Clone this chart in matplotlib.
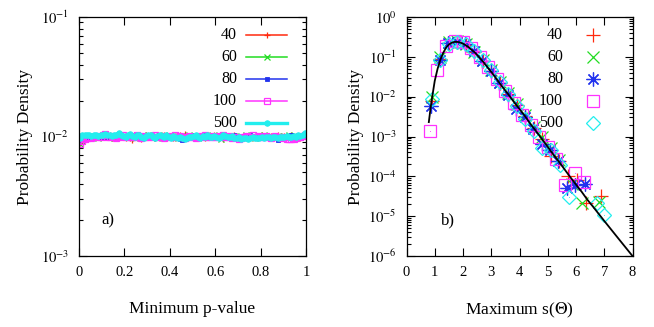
import matplotlib
matplotlib.use("Agg")
import matplotlib.pyplot as plt
import numpy as np
from matplotlib.ticker import FixedLocator, LogLocator, NullFormatter

plt.rcParams['font.family'] = ['Liberation Serif', 'DejaVu Serif']
plt.rcParams['mathtext.fontset'] = 'stix'

# ---------------- Panel a data ----------------
labels = ["40", "60", "80", "100", "500"]
pa_x = [i / 100 + 0.005 for i in range(100)]
pa_40 = [0.0088,0.0094,0.0097,0.0099,0.0098,0.0100,0.0101,0.0099,0.0100,0.0102,
         0.0101,0.0099,0.0100,0.0103,0.0098,0.0101,0.0100,0.0099,0.0102,0.0100,
         0.0098,0.0101,0.0097,0.0094,0.0100,0.0099,0.0101,0.0095,0.0100,0.0102,
         0.0099,0.0101,0.0100,0.0098,0.0102,0.0099,0.0100,0.0103,0.0099,0.0101,
         0.0100,0.0098,0.0101,0.0099,0.0102,0.0100,0.0104,0.0099,0.0101,0.0100,
         0.0098,0.0101,0.0099,0.0100,0.0102,0.0098,0.0101,0.0100,0.0099,0.0103,
         0.0100,0.0098,0.0101,0.0095,0.0100,0.0099,0.0101,0.0100,0.0102,0.0099,
         0.0100,0.0098,0.0101,0.0100,0.0099,0.0102,0.0100,0.0099,0.0101,0.0100,
         0.0102,0.0099,0.0100,0.0098,0.0101,0.0100,0.0099,0.0102,0.0100,0.0098,
         0.0101,0.0099,0.0100,0.0102,0.0099,0.0101,0.0100,0.0098,0.0101,0.0102]
pa_60 = [0.0087,0.0092,0.0096,0.0098,0.0100,0.0099,0.0101,0.0100,0.0098,0.0101,
         0.0100,0.0102,0.0099,0.0100,0.0101,0.0098,0.0100,0.0102,0.0099,0.0101,
         0.0100,0.0099,0.0101,0.0100,0.0098,0.0102,0.0100,0.0099,0.0101,0.0100,
         0.0102,0.0099,0.0100,0.0101,0.0098,0.0100,0.0099,0.0102,0.0100,0.0101,
         0.0099,0.0100,0.0102,0.0098,0.0100,0.0101,0.0099,0.0100,0.0102,0.0099,
         0.0101,0.0100,0.0098,0.0101,0.0100,0.0099,0.0102,0.0100,0.0101,0.0099,
         0.0100,0.0102,0.0095,0.0100,0.0101,0.0099,0.0100,0.0098,0.0101,0.0100,
         0.0099,0.0101,0.0100,0.0102,0.0099,0.0100,0.0101,0.0098,0.0100,0.0101,
         0.0099,0.0102,0.0100,0.0099,0.0101,0.0100,0.0098,0.0101,0.0100,0.0099,
         0.0101,0.0100,0.0102,0.0099,0.0100,0.0101,0.0099,0.0100,0.0101,0.0103]
pa_80 = [0.0093,0.0095,0.0097,0.0096,0.0099,0.0100,0.0098,0.0101,0.0100,0.0099,
         0.0101,0.0100,0.0102,0.0099,0.0100,0.0101,0.0099,0.0102,0.0100,0.0098,
         0.0101,0.0100,0.0099,0.0101,0.0102,0.0100,0.0099,0.0101,0.0100,0.0098,
         0.0100,0.0102,0.0099,0.0101,0.0100,0.0099,0.0102,0.0100,0.0101,0.0099,
         0.0100,0.0098,0.0101,0.0100,0.0096,0.0094,0.0099,0.0101,0.0100,0.0102,
         0.0099,0.0100,0.0101,0.0098,0.0100,0.0102,0.0099,0.0101,0.0100,0.0099,
         0.0101,0.0100,0.0102,0.0099,0.0100,0.0101,0.0099,0.0100,0.0102,0.0100,
         0.0099,0.0101,0.0100,0.0098,0.0101,0.0102,0.0100,0.0099,0.0101,0.0100,
         0.0102,0.0099,0.0100,0.0101,0.0096,0.0100,0.0099,0.0094,0.0095,0.0100,
         0.0101,0.0099,0.0100,0.0102,0.0099,0.0101,0.0100,0.0099,0.0101,0.0100]
pa_100 = [0.0086,0.0091,0.0095,0.0097,0.0099,0.0098,0.0100,0.0101,0.0099,0.0100,
          0.0102,0.0104,0.0100,0.0099,0.0101,0.0100,0.0098,0.0101,0.0100,0.0102,
          0.0099,0.0100,0.0101,0.0099,0.0100,0.0102,0.0100,0.0098,0.0101,0.0100,
          0.0099,0.0101,0.0100,0.0102,0.0099,0.0100,0.0101,0.0098,0.0100,0.0101,
          0.0099,0.0100,0.0102,0.0099,0.0101,0.0100,0.0098,0.0100,0.0101,0.0099,
          0.0100,0.0097,0.0099,0.0101,0.0100,0.0102,0.0099,0.0100,0.0101,0.0100,
          0.0099,0.0101,0.0100,0.0102,0.0099,0.0100,0.0101,0.0098,0.0100,0.0099,
          0.0096,0.0098,0.0100,0.0101,0.0099,0.0100,0.0102,0.0100,0.0099,0.0101,
          0.0100,0.0099,0.0101,0.0100,0.0098,0.0100,0.0101,0.0099,0.0100,0.0098,
          0.0099,0.0096,0.0095,0.0096,0.0095,0.0097,0.0099,0.0100,0.0101,0.0103]
pa_500 = [0.0097,0.0102,0.0103,0.0102,0.0103,0.0101,0.0103,0.0102,0.0101,0.0103,
          0.0102,0.0104,0.0103,0.0102,0.0101,0.0103,0.0102,0.0108,0.0103,0.0101,
          0.0100,0.0102,0.0104,0.0101,0.0099,0.0102,0.0103,0.0100,0.0098,0.0101,
          0.0103,0.0102,0.0100,0.0098,0.0101,0.0103,0.0101,0.0099,0.0102,0.0100,
          0.0098,0.0101,0.0099,0.0097,0.0100,0.0097,0.0095,0.0098,0.0100,0.0099,
          0.0101,0.0102,0.0100,0.0098,0.0101,0.0100,0.0102,0.0100,0.0099,0.0101,
          0.0100,0.0098,0.0100,0.0102,0.0101,0.0099,0.0100,0.0101,0.0098,0.0097,
          0.0099,0.0096,0.0097,0.0098,0.0096,0.0097,0.0099,0.0097,0.0098,0.0097,
          0.0099,0.0098,0.0100,0.0099,0.0098,0.0100,0.0099,0.0098,0.0100,0.0099,
          0.0100,0.0101,0.0099,0.0100,0.0101,0.0100,0.0102,0.0101,0.0102,0.0106]

# ---------------- Panel b data ----------------
curve_x = [0.79, 0.85, 0.9, 1.0, 1.1, 1.2, 1.3, 1.4, 1.5, 1.6, 1.7, 1.8, 1.9, 2.0,
           2.1, 2.2, 2.3, 2.4, 2.5, 2.6, 2.7, 2.8, 2.9, 3.0, 3.2, 3.4, 3.6, 3.8,
           4.0, 4.2, 4.4, 4.6, 4.8, 5.0, 5.2, 5.4, 5.6, 5.8, 6.0, 6.2, 6.4, 6.6,
           6.8, 7.0, 7.5, 8.0]
curve_y = [2.3e-3, 5.0e-3, 8.9e-3, 2.5e-2, 5.0e-2, 8.5e-2, 0.126, 0.170, 0.204,
           0.226, 0.237, 0.237, 0.229, 0.214, 0.195, 0.174, 0.151, 0.132, 0.111,
           0.093, 0.077, 0.063, 0.051, 0.042, 0.027, 0.0174, 0.0115, 7.4e-3,
           4.9e-3, 3.2e-3, 2.0e-3, 1.32e-3, 8.5e-4, 5.5e-4, 3.5e-4, 2.3e-4,
           1.48e-4, 9.5e-5, 6.2e-5, 4.1e-5, 2.6e-5, 1.74e-5, 1.15e-5, 7.6e-6,
           2.75e-6, 1.0e-6]

pb_x40 = [0.90,1.20,1.50,1.80,2.10,2.40,2.70,3.00,3.30,3.60,3.90,4.20,4.50,4.80,5.10,5.40,5.72,6.02,6.37,6.90]
pb_y40 = [7.9e-3,8.9e-2,0.219,0.240,0.200,0.135,0.079,0.0437,0.0224,0.0117,6.3e-3,3.3e-3,1.66e-3,8.9e-4,3.2e-4,2.4e-4,1.0e-4,7.9e-5,2.2e-5,3.2e-5]
pb_x60 = [0.90,1.20,1.50,1.80,2.10,2.40,2.70,3.00,3.30,3.60,3.90,4.20,4.50,4.80,5.10,5.40,5.85,6.20,6.80]
pb_y60 = [1.0e-2,0.1,0.229,0.251,0.204,0.132,0.083,0.0457,0.0229,0.0126,6.6e-3,3.5e-3,1.74e-3,1.0e-3,5.0e-4,2.6e-4,6.3e-5,2.1e-5,2.3e-5]
pb_x80 = [0.88,1.18,1.48,1.78,2.08,2.38,2.68,2.98,3.28,3.58,3.88,4.18,4.48,4.78,5.08,5.38,5.68,5.97,6.32]
pb_y80 = [6.0e-3,8.5e-2,0.219,0.240,0.209,0.138,0.079,0.0437,0.0219,0.0112,5.0e-3,3.0e-3,1.58e-3,6.3e-4,4.5e-4,2.4e-4,5.0e-5,6.0e-5,6.3e-5]
pb_x100 = [0.82,1.08,1.40,1.70,2.00,2.30,2.60,2.90,3.20,3.50,3.80,4.10,4.40,4.70,5.00,5.30,5.62,5.97,6.30]
pb_y100 = [1.4e-3,4.6e-2,0.19,0.251,0.229,0.166,0.1,0.056,0.028,0.014,7.1e-3,3.5e-3,1.9e-3,1.0e-3,5.6e-4,2.8e-4,6.0e-5,1.23e-4,7.2e-5]
pb_x500 = [0.90,1.20,1.50,1.80,2.10,2.40,2.70,3.00,3.30,3.60,3.90,4.20,4.50,4.80,5.10,5.45,5.76,6.73,6.99]
pb_y500 = [8.9e-3,8.3e-2,0.209,0.240,0.209,0.138,0.083,0.0457,0.0234,0.012,6.0e-3,2.8e-3,1.38e-3,5.0e-4,4.5e-4,1.9e-4,3.1e-5,2.1e-5,1.07e-5]

colors = ["#ff2a0e", "#22dd22", "#2233ee", "#ff33ff", "#22eeee"]

fig = plt.figure(figsize=(6.54, 3.27), dpi=100)
axa = fig.add_axes([79/654, 1-256/327, 227/654, 239/327])
axb = fig.add_axes([406.5/654, 1-256/327, 226/654, 239/327])

TICKFS = 10.5
LABFS = 12.5
LEGFS = 11.5

def style_axis(ax):
    ax.tick_params(which='both', direction='in', top=True, right=True, labelsize=TICKFS, pad=7)
    ax.tick_params(which='major', length=6, width=0.8)
    ax.tick_params(which='minor', length=3, width=0.8)
    for s in ax.spines.values():
        s.set_linewidth(0.9)

# ----- panel a -----
a_series = [pa_40, pa_60, pa_80, pa_100, pa_500]
a_markers = [dict(marker='+', ms=5, mew=0.9), dict(marker='x', ms=4, mew=0.9),
             dict(marker='s', ms=3.5, mew=0.6), dict(marker='s', ms=4.5, mew=0.9, mfc='none'),
             dict(marker='o', ms=4, mew=0.6)]
a_lw = [1.1, 1.1, 1.1, 1.1, 2.4]
a_lines = []
for ys, c, mk, lw in zip(a_series, colors, a_markers, a_lw):
    ln, = axa.plot(pa_x, ys, color=c, lw=lw, **mk)
    a_lines.append((ln, c, mk, lw))
axa.set_yscale('log')
axa.set_xlim(0, 1)
axa.set_ylim(1e-3, 1e-1)
axa.set_xticks([0, 0.2, 0.4, 0.6, 0.8, 1.0])
axa.set_xticklabels(['0', '0.2', '0.4', '0.6', '0.8', '1'])
axa.yaxis.set_major_locator(FixedLocator([1e-3, 1e-2, 1e-1]))
axa.set_yticklabels([r'$10^{-3}$', r'$10^{-2}$', r'$10^{-1}$'])
axa.yaxis.set_minor_locator(LogLocator(base=10, subs=np.arange(2, 10), numticks=20))
axa.yaxis.set_minor_formatter(NullFormatter())
style_axis(axa)
axa.set_xlabel('Minimum p-value', fontsize=LABFS, labelpad=16)
axa.set_ylabel('Probability Density', fontsize=LABFS, labelpad=5)
axa.text(0.128, 2.0e-3, 'a)', fontsize=LEGFS + 0.5, ha='center', va='center')

# manual legend (right-aligned labels, sample to the right)
leg_rows = [35, 57, 79, 101, 123]
for (ln, c, mk, lw), lab, yp in zip(a_lines, labels, leg_rows):
    yf = (256 - yp) / 239
    axa.text((237 - 79) / 227, yf, lab, transform=axa.transAxes, ha='right', va='center', fontsize=LEGFS)
    axa.plot([(246 - 79) / 227, (287 - 79) / 227], [yf, yf], color=c, lw=lw,
             transform=axa.transAxes, clip_on=False)
    axa.plot([(266.5 - 79) / 227], [yf], color=c, ls='none', transform=axa.transAxes,
             clip_on=False, **mk)

# ----- panel b -----
axb.plot(curve_x, curve_y, color='black', lw=1.3, zorder=5)
b_x = [pb_x40, pb_x60, pb_x80, pb_x100, pb_x500]
b_y = [pb_y40, pb_y60, pb_y80, pb_y100, pb_y500]
b_markers = [dict(marker='+', ms=10, mew=0.9), dict(marker='x', ms=9, mew=0.9),
             dict(marker=(8, 2, 0), ms=10, mew=0.9),
             dict(marker='s', ms=9, mew=0.9, mfc='none'),
             dict(marker='D', ms=7, mew=0.9, mfc='none')]
for xs, ys, c, mk in zip(b_x, b_y, colors, b_markers):
    axb.plot(xs, ys, color=c, ls='none', **mk)
    if mk['marker'] == (8, 2, 0):
        axb.plot(xs, ys, color=c, ls='none', marker='o', ms=3, mew=0)
    if mk['marker'] in ('s', 'D'):
        axb.plot(xs, ys, color=c, ls='none', marker='.', ms=1.2, mew=0)
axb.set_yscale('log')
axb.set_xlim(0, 8)
axb.set_ylim(1e-6, 1)
axb.set_xticks(range(0, 9))
axb.yaxis.set_major_locator(FixedLocator([1e-6, 1e-5, 1e-4, 1e-3, 1e-2, 1e-1, 1]))
axb.set_yticklabels([r'$10^{-6}$', r'$10^{-5}$', r'$10^{-4}$', r'$10^{-3}$',
                     r'$10^{-2}$', r'$10^{-1}$', r'$10^{0}$'])
axb.yaxis.set_minor_locator(LogLocator(base=10, subs=np.arange(2, 10), numticks=20))
axb.yaxis.set_minor_formatter(NullFormatter())
style_axis(axb)
axb.set_xlabel(r'Maximum s($\Theta$)', fontsize=LABFS, labelpad=16)
axb.set_ylabel('Probability Density', fontsize=LABFS, labelpad=3)
axb.text(1.47, 8e-6, 'b)', fontsize=LEGFS + 0.5, ha='center', va='center')

for c, mk, lab, yp in zip(colors, b_markers, labels, leg_rows):
    yf = (256 - yp) / 239
    axb.text((563 - 406.5) / 226, yf, lab, transform=axb.transAxes, ha='right', va='center', fontsize=LEGFS)
    axb.plot([(593 - 406.5) / 226], [yf], color=c, ls='none', transform=axb.transAxes,
             clip_on=False, **mk)
    if mk['marker'] == (8, 2, 0):
        axb.plot([(593 - 406.5) / 226], [yf], color=c, ls='none', marker='o', ms=3, mew=0,
                 transform=axb.transAxes, clip_on=False)

fig.savefig('out.png', dpi=100)
